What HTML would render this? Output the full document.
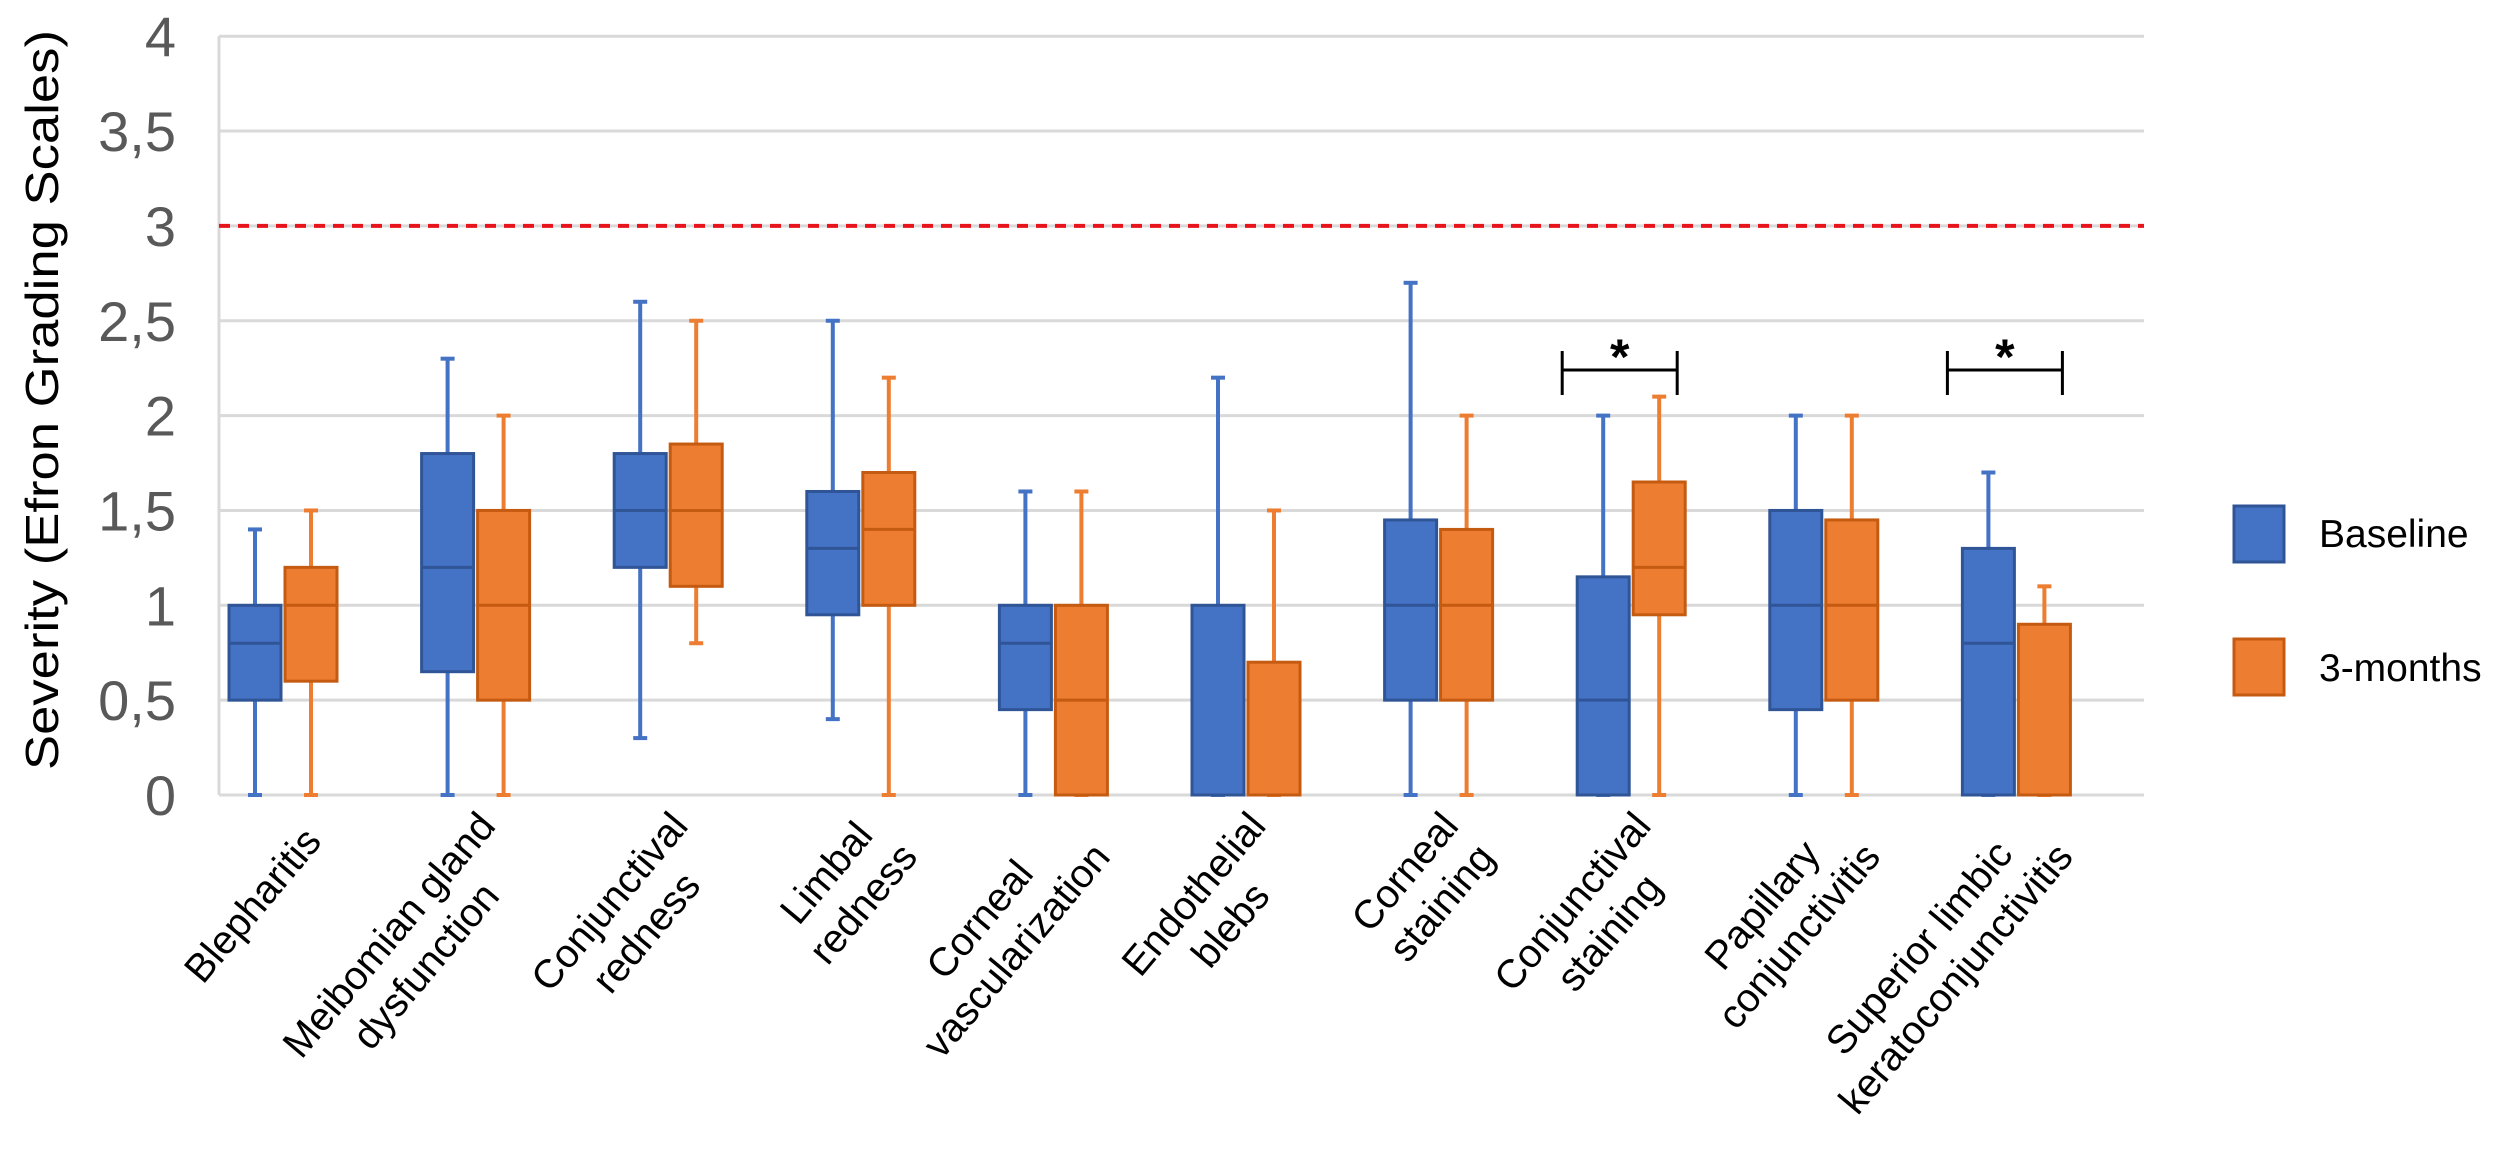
<!DOCTYPE html>
<html><head><meta charset="utf-8"><style>
html,body{margin:0;padding:0;background:#fff;}
svg{display:block;font-family:"Liberation Sans",sans-serif;}
</style></head><body>
<svg id="chart" width="2500" height="1149" viewBox="0 0 2500 1149" xmlns="http://www.w3.org/2000/svg">
<g id="grid"></g>
<g id="yticks"></g>
<text transform="translate(58,400) rotate(-90)" text-anchor="middle" font-size="46" fill="#000" textLength="740" lengthAdjust="spacingAndGlyphs">Severity (Efron Grading Scales)</text>
<g id="boxes"></g>
<g id="xlabels"></g>
<g id="sig"></g>
<g>
<rect x="2234" y="506" width="50" height="56" fill="#4472C4" stroke="#2F5597" stroke-width="3"/>
<text x="2319" y="547" font-size="39" fill="#000">Baseline</text>
<rect x="2234" y="639" width="50" height="56" fill="#ED7D31" stroke="#C55A11" stroke-width="3"/>
<text x="2319" y="681" font-size="39" fill="#000">3-months</text>
</g>
</svg>
<script>
const categories = [["Blepharitis"],["Meibomian gland","dysfunction"],["Conjunctival","redness"],["Limbal","redness"],["Corneal","vascularization"],["Endothelial","blebs"],["Corneal","staining"],["Conjunctival","staining"],["Papillary","conjunctivitis"],["Superior limbic","keratoconjunctivitis"]];
const baseMin =   [0,   0,    0.3, 0.4,  0,    0, 0,    0,    0,    0];
const baseQ1 =    [0.5, 0.65, 1.2, 0.95, 0.45, 0, 0.5,  0,    0.45, 0];
const baseMed =   [0.8, 1.2,  1.5, 1.3,  0.8,  0, 1.0,  0.5,  1.0,  0.8];
const baseQ3 =    [1.0, 1.8,  1.8, 1.6,  1.0,  1.0, 1.45, 1.15, 1.5, 1.3];
const baseMax =   [1.4, 2.3,  2.6, 2.5,  1.6,  2.2, 2.7,  2.0,  2.0, 1.7];
const m3Min =     [0,   0,    0.8, 0,    0,    0, 0,    0,    0,    0];
const m3Q1 =      [0.6, 0.5,  1.1, 1.0,  0,    0, 0.5,  0.95, 0.5,  0];
const m3Med =     [1.0, 1.0,  1.5, 1.4,  0.5,  0, 1.0,  1.2,  1.0,  0];
const m3Q3 =      [1.2, 1.5,  1.85,1.7,  1.0,  0.7, 1.4, 1.65, 1.45, 0.9];
const m3Max =     [1.5, 2.0,  2.5, 2.2,  1.6,  1.5, 2.0,  2.1,  2.0,  1.1];
const yTicks = [0,0.5,1,1.5,2,2.5,3,3.5,4];
const yTickLabels = ["0","0,5","1","1,5","2","2,5","3","3,5","4"];
const thresholdValue = 3;
const sigCategories = [7,9];

const NS="http://www.w3.org/2000/svg";
const X0=219, X1=2144, Y0=795, PXU=189.7;
function y(v){return Y0-v*PXU;}
function xc(i){return 283+192.6*i;}
function mk(tag,attrs,parent){const e=document.createElementNS(NS,tag);for(const k in attrs)e.setAttribute(k,attrs[k]);parent.appendChild(e);return e;}

const grid=document.getElementById('grid');
yTicks.forEach((t,i)=>{
  const l=mk('line',{x1:X0,x2:X1,y1:y(t),y2:y(t),stroke:'#d9d9d9','stroke-width':3},grid);
  
  
});
const ax=mk('line',{x1:X0,x2:X0,y1:y(4),y2:y(0),stroke:'#d9d9d9','stroke-width':3},grid);


const red=mk('line',{x1:X0,x2:X1,y1:y(thresholdValue),y2:y(thresholdValue),stroke:'#e8141c','stroke-width':4,'stroke-dasharray':'11 8'},grid);



const yt=document.getElementById('yticks');
yTicks.forEach((t,i)=>{
  const tx=mk('text',{x:176,y:y(t)+20,'text-anchor':'end','font-size':56,fill:'#595959'},yt);
  tx.textContent=yTickLabels[i];
  
  
});

const bx=document.getElementById('boxes');
function drawBox(cx,mn,q1,md,q3,mx,fill,stroke,name){
  const g=mk('g',{},bx);
  
  
  const w=52;
  mk('line',{x1:cx,x2:cx,y1:y(mx),y2:y(q3),stroke:fill,'stroke-width':4},g);
  mk('line',{x1:cx,x2:cx,y1:y(q1),y2:y(mn),stroke:fill,'stroke-width':4},g);
  mk('line',{x1:cx-7,x2:cx+7,y1:y(mx),y2:y(mx),stroke:fill,'stroke-width':4},g);
  mk('line',{x1:cx-7,x2:cx+7,y1:y(mn),y2:y(mn),stroke:fill,'stroke-width':4},g);
  const h=Math.max(y(q1)-y(q3),0);
  mk('rect',{x:cx-w/2,y:y(q3),width:w,height:h,fill:fill,stroke:stroke,'stroke-width':3},g);
  if(md>q1&&md<q3) mk('line',{x1:cx-w/2,x2:cx+w/2,y1:y(md),y2:y(md),stroke:stroke,'stroke-width':3},g);
}
categories.forEach((c,i)=>{
  drawBox(xc(i)-28,baseMin[i],baseQ1[i],baseMed[i],baseQ3[i],baseMax[i],'#4472C4','#2F5597','box-baseline-'+i);
  drawBox(xc(i)+28,m3Min[i],m3Q1[i],m3Med[i],m3Q3[i],m3Max[i],'#ED7D31','#C55A11','box-3-months-'+i);
});

const xl=document.getElementById('xlabels');
categories.forEach((lines,i)=>{
  const g=mk('g',{transform:`translate(${xc(i)+30},834) rotate(-50)`},xl);
  
  
  const els=lines.map((s,k)=>{
    const t=mk('text',{'font-size':40,fill:'#000','text-anchor':'middle',y:(k-(lines.length-1)/2)*48+13},g);
    t.textContent=s;return t;});
  const W=Math.max(...els.map(e=>e.getComputedTextLength()));
  els.forEach(e=>e.setAttribute('x',-W/2));
});

const sg=document.getElementById('sig');
sigCategories.forEach(i=>{
  const a=xc(i)-69,b=xc(i)+46,yy=370;
  const g=mk('g',{},sg);
  
  
  mk('line',{x1:a,x2:b,y1:yy,y2:yy,stroke:'#000','stroke-width':3},g);
  mk('line',{x1:a,x2:a,y1:351,y2:395,stroke:'#000','stroke-width':3},g);
  mk('line',{x1:b,x2:b,y1:351,y2:395,stroke:'#000','stroke-width':3},g);
  const s=mk('text',{x:(a+b)/2,y:374,'text-anchor':'middle','font-size':50,'font-weight':'bold',fill:'#000'},g);
  s.textContent='*';
});
</script>
</body></html>
